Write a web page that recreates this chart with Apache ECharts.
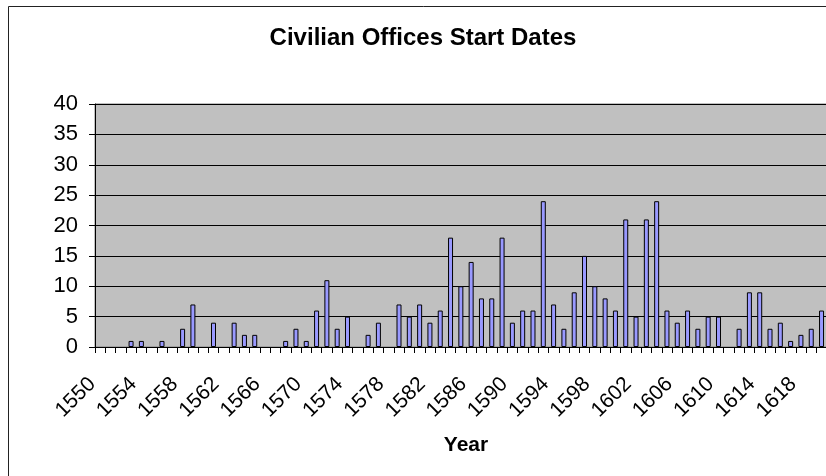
<!DOCTYPE html>
<html>
<head>
<meta charset="utf-8">
<script src="https://cdn.jsdelivr.net/npm/echarts@6/dist/echarts.min.js"></script>
<style>
html,body{margin:0;padding:0;background:#fff;overflow:hidden;width:826px;height:476px;}
#c{width:837px;height:476px;}
</style>
</head>
<body>
<div id="c"></div>
<script>
var years = [];
for (var y = 1550; y <= 1621; y++) years.push(String(y));
var offices = [0,0,0,1,1,0,1,0,3,7, 0,4,0,4,2,2,0,0,1,3, 1,6,11,3,5,0,2,4,0,7, 5,7,4,6,18,10,14,8,8,18, 4,6,6,24,7,3,9,15,10,8, 6,21,5,21,24,6,4,6,3,5, 5,0,3,9,9,3,4,1,2,3, 6,null];
var yTicks = {min: 0, max: 40, step: 5};
var titleText = 'Civilian Offices Start Dates';
var xName = 'Year';

var chart = echarts.init(document.getElementById('c'));
chart.setOption({
  animation: false,
  backgroundColor: '#fff',
  title: {
    text: titleText, left: 418, top: 21, textAlign: 'center',
    textStyle: {fontFamily: 'Liberation Sans, Arial', fontSize: 24, fontWeight: 'bold', color: '#000'}
  },
  graphic: [{
    type: 'rect', left: 6, top: 4, shape: {width: 900, height: 900},
    style: {fill: 'none', stroke: '#222', lineWidth: 1}, silent: true
  }],
  grid: {
    left: 95, right: 0, top: 104, bottom: 129,
    show: true, backgroundColor: '#C0C0C0', borderColor: '#808080', borderWidth: 1
  },
  xAxis: {
    type: 'category', data: years, boundaryGap: true,
    name: xName, nameLocation: 'middle', nameGap: 88,
    nameTextStyle: {fontFamily: 'Liberation Sans, Arial', fontSize: 21, fontWeight: 'bold', color: '#000'},
    axisLine: {lineStyle: {color: '#000', width: 1}},
    axisTick: {show: true, interval: 0, length: 6, lineStyle: {color: '#000'}},
    axisLabel: {
      interval: 3, rotate: 45, margin: 26,
      formatter: function (v) { return v + '{p|00}'; },
      rich: {p: {fontSize: 10, color: 'rgba(0,0,0,0)'}},
      fontFamily: 'Liberation Sans, Arial', fontSize: 21, color: '#000'
    },
    splitLine: {show: false}
  },
  yAxis: {
    type: 'value', min: yTicks.min, max: yTicks.max, interval: yTicks.step,
    axisLine: {show: true, lineStyle: {color: '#000', width: 1}},
    axisTick: {show: true, length: 6, lineStyle: {color: '#000'}},
    axisLabel: {margin: 17, fontFamily: 'Liberation Sans, Arial', fontSize: 22, color: '#000'},
    splitLine: {show: true, lineStyle: {color: '#000', width: 1}}
  },
  series: [{
    type: 'bar',
    data: offices.map(function (v) { return v === 0 ? null : v; }),
    barWidth: 5,
    itemStyle: {color: '#9999FF', borderColor: '#000', borderWidth: 1}
  }]
});
</script>
</body>
</html>
